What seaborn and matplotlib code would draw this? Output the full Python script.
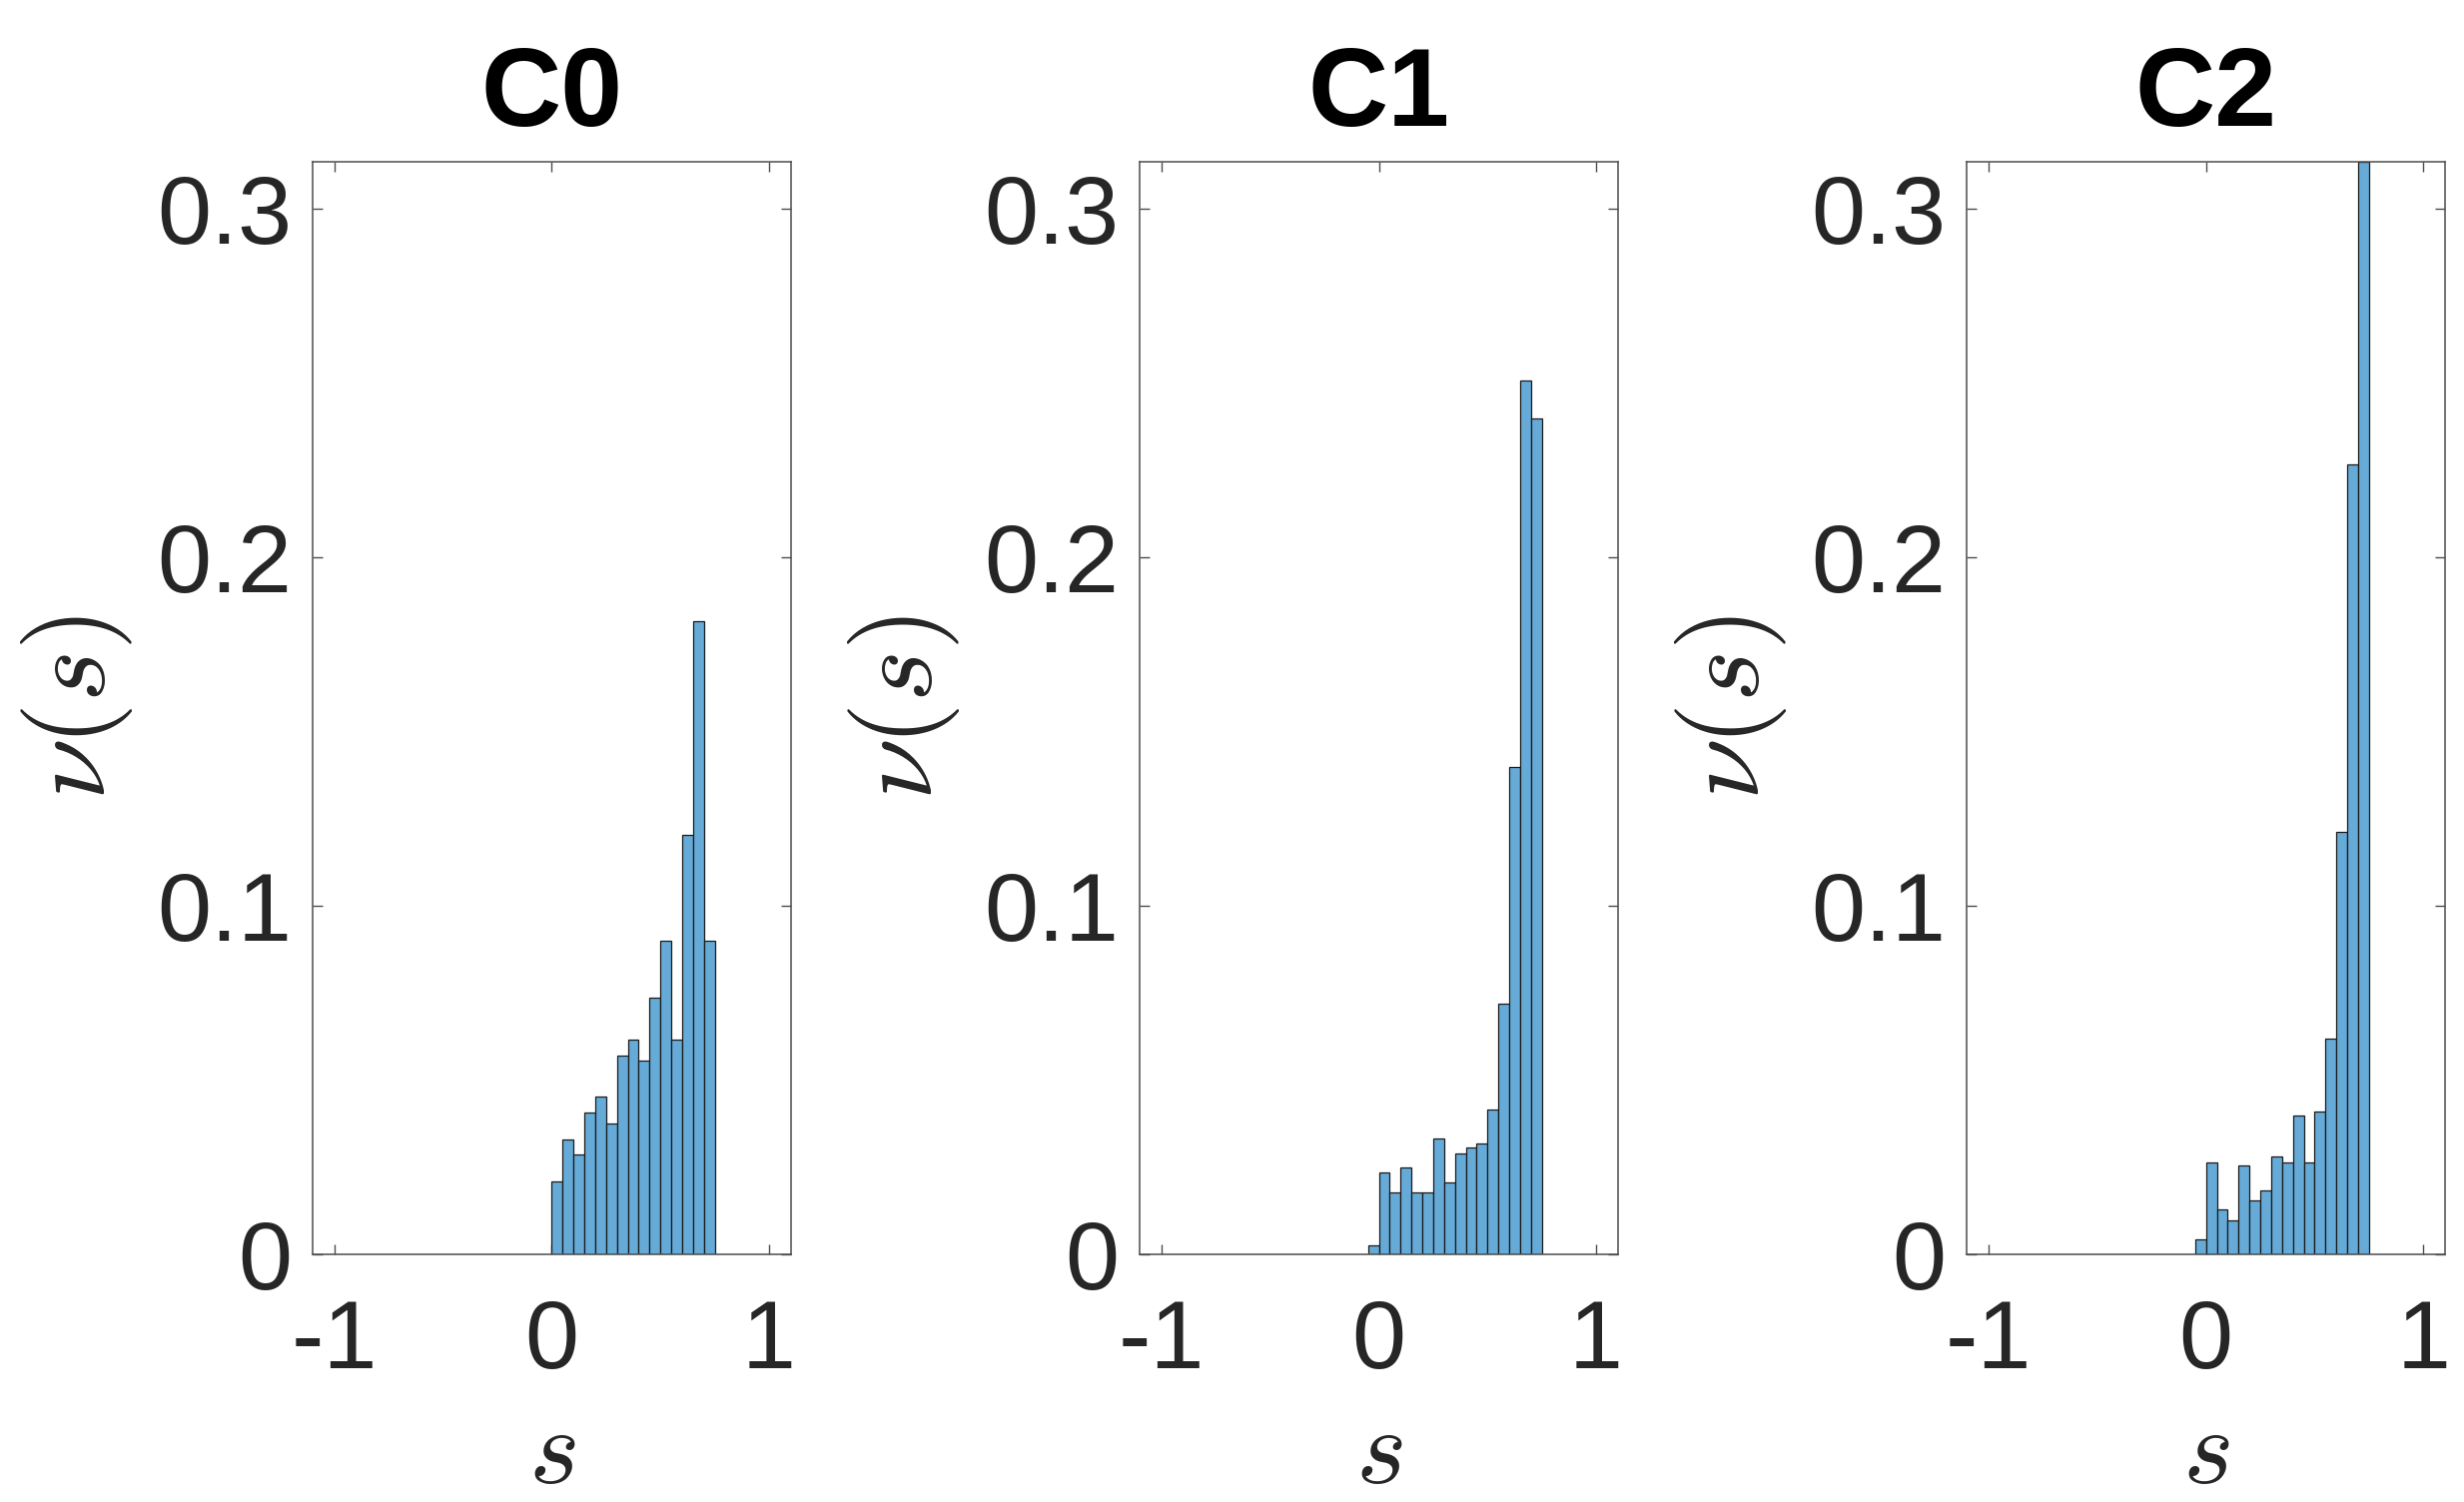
import numpy as np
import pandas as pd
import matplotlib
matplotlib.use("Agg")
import matplotlib.pyplot as plt
import seaborn as sns

# ---- data ----
panel_titles = ["C0", "C1", "C2"]

c0_edges = [0.00, 0.05, 0.10, 0.15, 0.20, 0.25, 0.30, 0.35, 0.40, 0.45,
            0.50, 0.55, 0.60, 0.65, 0.70, 0.75]
c0_heights = [0.0210, 0.0330, 0.0286, 0.0407, 0.0452, 0.0375, 0.0571, 0.0615,
              0.0556, 0.0736, 0.0899, 0.0615, 0.1203, 0.1816, 0.0899]

c1_edges = [-0.05, 0.00, 0.05, 0.10, 0.15, 0.20, 0.25, 0.30, 0.35, 0.40,
            0.45, 0.50, 0.55, 0.60, 0.65, 0.70, 0.75]
c1_heights = [0.0027, 0.0235, 0.0179, 0.0249, 0.0179, 0.0179, 0.0331, 0.0206,
              0.0290, 0.0306, 0.0319, 0.0415, 0.0719, 0.1400, 0.2508, 0.2400]

c2_edges = [-0.05, 0.00, 0.05, 0.10, 0.15, 0.20, 0.25, 0.30, 0.35, 0.40,
            0.45, 0.50, 0.55, 0.60, 0.65, 0.70, 0.75]
c2_heights = [0.0044, 0.0265, 0.0128, 0.0098, 0.0255, 0.0155, 0.0184, 0.0280,
              0.0265, 0.0397, 0.0265, 0.0410, 0.0619, 0.1211, 0.2267, 0.3135]

x_ticks = [-1, 0, 1]
x_ticklabels = ["-1", "0", "1"]
y_ticks = [0, 0.1, 0.2, 0.3]
y_ticklabels = ["0", "0.1", "0.2", "0.3"]

# ---- style ----
sns.set_theme(style="white")
plt.rcParams["font.family"] = ["Liberation Sans", "DejaVu Sans"]
plt.rcParams["mathtext.fontset"] = "cm"

W, H = 2467, 1504
fig = plt.figure(figsize=(W / 100, H / 100), dpi=100)

lefts = [0.1269, 0.4626, 0.7983]
bottom, width, height = 0.1649, 0.194, 0.7273

bar_color = "#66AAD7"
text_color = "#262626"
spine_color = "#4d4d4d"

panels = [(c0_edges, c0_heights), (c1_edges, c1_heights), (c2_edges, c2_heights)]

for i, (edges, heights) in enumerate(panels):
    ax = fig.add_axes([lefts[i], bottom, width, height])
    e = np.array(edges, dtype=float)
    centers = (e[:-1] + e[1:]) / 2
    df = pd.DataFrame({"s": centers, "nu": heights})
    sns.histplot(data=df, x="s", weights="nu", bins=list(edges), stat="count",
                 color=bar_color, alpha=1.0, edgecolor="#1a1a1a",
                 linewidth=0.9, ax=ax)
    ax.set_xlim(-1.1, 1.1)
    ax.set_ylim(0, 0.3135)
    ax.set_xticks(x_ticks)
    ax.set_xticklabels(x_ticklabels)
    ax.set_yticks(y_ticks)
    ax.set_yticklabels(y_ticklabels)
    ax.tick_params(axis="both", direction="in", length=7, width=1.0,
                   color=spine_color, labelsize=70, labelcolor=text_color,
                   top=True, right=True, bottom=True, left=True)
    ax.tick_params(axis="x", pad=32)
    ax.tick_params(axis="y", pad=15)
    for sp in ax.spines.values():
        sp.set_visible(True)
        sp.set_color(spine_color)
        sp.set_linewidth(1.1)
    ax.set_title(panel_titles[i], fontsize=80, fontweight="bold",
                 color="black", pad=26)
    ax.set_xlabel(r"$s$", fontsize=78, color=text_color, labelpad=12)
    ax.set_ylabel(r"$\nu(s)$", fontsize=80, color=text_color, labelpad=16)
    ax.grid(False)

fig.savefig("out.png", dpi=100, facecolor="white")
